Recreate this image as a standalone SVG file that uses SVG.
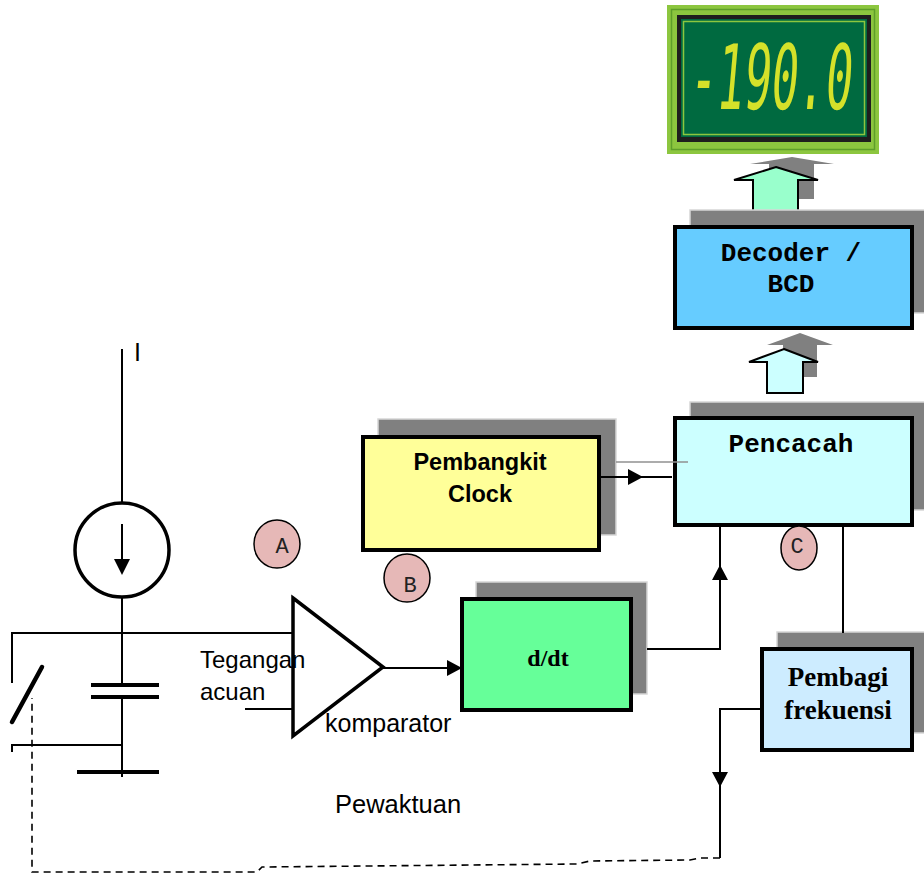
<svg xmlns="http://www.w3.org/2000/svg" width="924" height="875" viewBox="0 0 924 875">
  <style>
    .shadow { fill: #808080; stroke: #d6d6d6; stroke-width: 1.5; }
    .box { stroke: #000; stroke-width: 4; }
    .wire { fill: none; stroke: #000; stroke-width: 2; }
    .thick { fill: none; stroke: #000; stroke-width: 4; }
    .dash { fill: none; stroke: #000; stroke-width: 1.6; stroke-dasharray: 7 5; }
    .mono { font-family: "Liberation Mono", "Courier New", monospace; font-weight: bold; font-size: 26px; text-anchor: middle; }
    .sans { font-family: "Liberation Sans", Arial, sans-serif; }
    .serif { font-family: "Liberation Serif", "Times New Roman", serif; font-weight: bold; text-anchor: middle; }
    .tag { fill: #e6b8b7; stroke: #000; stroke-width: 1.5; }
    .tagtxt { font-family: "Liberation Mono", "Courier New", monospace; font-size: 22px; text-anchor: middle; fill: #222; }
  </style>
  <defs>
    <marker id="head" markerUnits="userSpaceOnUse" markerWidth="16" markerHeight="16" refX="15" refY="8" orient="auto">
      <path d="M0,0 L15,8 L0,16 Z" fill="#000"/>
    </marker>
  </defs>
  <rect width="924" height="875" fill="#fff"/>

  <!-- digital readout -->
  <g id="display">
    <rect x="667" y="5" width="212" height="149" fill="#8cc63f"/>
    <rect x="671.5" y="9.5" width="203" height="140" fill="none" stroke="#5e9e2a" stroke-width="1.5"/>
    <rect x="677" y="15" width="194" height="127" fill="#1e1e1e"/>
    <rect x="681" y="19" width="186" height="118" fill="#006a40"/>
    <rect x="683.5" y="21.5" width="181" height="113" fill="none" stroke="#8cc63f" stroke-width="1.5"/>
    <text transform="translate(688 109) skewX(-5) scale(1 2)" font-family="DejaVu Sans Mono, monospace" font-size="45" fill="#d5e12a">-190.0</text>
  </g>

  <!-- block arrows -->
  <g id="bus-arrows">
    <polygon points="792,157 834,164 814,164 814,199 769,199 769,164 750,164" fill="#808080"/>
    <polygon points="776,167 818,180 798,180 798,215 753,215 753,180 734,180" fill="#99ffcc" stroke="#000" stroke-width="2"/>
    <polygon points="800,333 833,345 817,345 817,377 783,377 783,345 767,345" fill="#808080"/>
    <polygon points="784,349 818,362 803,362 803,393 767,393 767,362 749,362" fill="#ccffff" stroke="#000" stroke-width="2"/>
  </g>

  <g id="decoder">
    <rect class="shadow" x="690" y="210" width="240" height="103"/>
    <rect class="box" x="675" y="227" width="237" height="101" fill="#66ccff"/>
    <text class="mono" x="791" y="261">Decoder /</text>
    <text class="mono" x="791" y="292">BCD</text>
  </g>

  <g id="pencacah">
    <rect class="shadow" x="690" y="402" width="240" height="108"/>
    <rect class="box" x="675" y="418" width="237" height="107" fill="#ccffff"/>
    <text class="mono" x="791" y="452">Pencacah</text>
  </g>

  <g id="clock">
    <rect class="shadow" x="378" y="419" width="238" height="116"/>
    <rect class="box" x="363" y="437" width="236" height="113" fill="#ffff99"/>
    <text class="sans" x="480" y="470" font-size="23.5" font-weight="bold" text-anchor="middle">Pembangkit</text>
    <text class="sans" x="480" y="502" font-size="23.5" font-weight="bold" text-anchor="middle">Clock</text>
  </g>

  <g id="ddt">
    <rect class="shadow" x="476" y="582" width="171" height="112"/>
    <rect class="box" x="462" y="599" width="169" height="111" fill="#66ff99"/>
    <text class="serif" x="548" y="666" font-size="24">d/dt</text>
  </g>

  <g id="pembagi">
    <rect class="shadow" x="777" y="632" width="160" height="101"/>
    <rect class="box" x="762" y="649" width="150" height="101" fill="#cdecff"/>
    <text class="serif" x="838" y="686" font-size="27">Pembagi</text>
    <text class="serif" x="838" y="719" font-size="27">frekuensi</text>
  </g>

  <g id="comparator">
    <polygon points="293,598 383,667 293,736" fill="#fff" stroke="#000" stroke-width="3.5" stroke-linejoin="miter"/>
  </g>

  <g id="current-source">
    <circle cx="122" cy="550" r="47" fill="#fff" stroke="#000" stroke-width="3.5"/>
    <path class="wire" d="M122,524 V562"/>
    <path d="M114,559 L130,559 L122,575 Z" fill="#000"/>
  </g>

  <g id="capacitor">
    <path class="thick" d="M91,685 H159 M91,697 H159"/>
  </g>

  <g id="ground">
    <path class="thick" d="M77,772 H159"/>
  </g>

  <g id="switch">
    <path d="M12,722 L42,667" stroke="#000" stroke-width="4.5" stroke-linecap="round"/>
  </g>

  <g id="tag-a">
    <ellipse class="tag" cx="277" cy="544" rx="23" ry="24"/>
    <text class="tagtxt" x="282" y="553">A</text>
  </g>
  <g id="tag-b">
    <ellipse class="tag" cx="407" cy="578" rx="23" ry="24"/>
    <text class="tagtxt" x="410" y="592">B</text>
  </g>
  <g id="tag-c">
    <ellipse class="tag" cx="799" cy="548" rx="18" ry="22"/>
    <text class="tagtxt" x="797" y="553">C</text>
  </g>

  <g id="connectors">
    <!-- supply and RC network -->
    <path class="wire" d="M122,349 V503"/>
    <path class="wire" d="M122,597 V685 M122,697 V777"/>
    <path class="wire" d="M12,683 V633 H293"/>
    <path class="wire" d="M12,752 V745 H123"/>
    <!-- reference input and comparator output -->
    <path class="wire" d="M245,709 H293"/>
    <path class="wire" d="M383,668 H462" marker-end="url(#head)"/>
    <!-- clock to counter -->
    <path d="M616,462 H688" fill="none" stroke="#909090" stroke-width="1.5"/>
    <path class="wire" d="M599,477 H643" marker-end="url(#head)"/>
    <path class="wire" d="M643,477 H672"/>
    <!-- d/dt to counter -->
    <path class="wire" d="M647,649 H720 V565" marker-end="url(#head)"/>
    <path class="wire" d="M720,565 V525"/>
    <!-- counter to divider -->
    <path class="wire" d="M843,525 V633"/>
    <!-- divider output (timing) -->
    <path class="wire" d="M762,709 H720 V787" marker-end="url(#head)"/>
    <path class="wire" d="M720,787 V858"/>
    <path class="dash" d="M720,858 L700,858 L690,860 L590,861 L577,864 L262,867 L257,872 L32,872 L32,698"/>
  </g>

  <g id="labels">
    <text class="sans" x="134" y="361" font-size="25">I</text>
    <text class="sans" x="200" y="668" font-size="24">Tegangan</text>
    <text class="sans" x="200" y="700" font-size="24">acuan</text>
    <text class="sans" x="325" y="732" font-size="25">komparator</text>
    <text class="sans" x="335" y="813" font-size="25.5">Pewaktuan</text>
  </g>
</svg>
